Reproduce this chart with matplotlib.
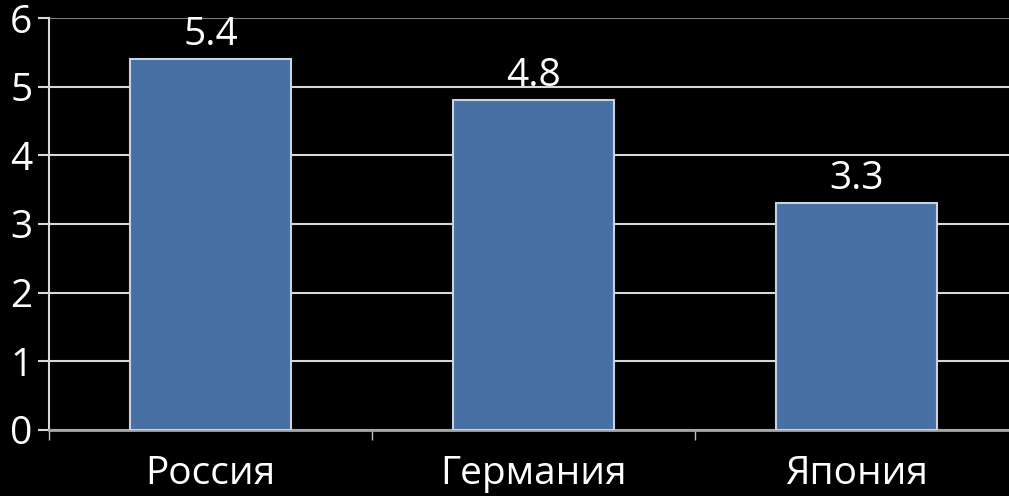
import numpy as np
import matplotlib.pyplot as plt
from matplotlib.ticker import FixedLocator

countries = ["Россия", "Германия", "Япония"]
values = [5.4, 4.8, 3.3]
y_ticks = [0, 1, 2, 3, 4, 5, 6]

plt.rcParams["font.family"] = ["Open Sans", "DejaVu Sans"]

fig = plt.figure(figsize=(10.09, 4.96), dpi=100, facecolor="black")
# ось чуть выходит за правый край, как в оригинале
ax = fig.add_axes([49 / 1009, 1 - 430 / 496, 969 / 1009, 412 / 496])
ax.set_facecolor("black")

x = np.arange(len(countries))
bars = ax.bar(x, values, width=0.5, color="#4870a4", edgecolor="#c9d3e0",
              linewidth=1.5, zorder=3)

for rect, v in zip(bars, values):
    ax.annotate(f"{v:.1f}", (rect.get_x() + rect.get_width() / 2, v),
                xytext=(0, 4), textcoords="offset points",
                ha="center", va="bottom", color="white", fontsize=28)

ax.set_xlim(-0.5, len(countries) - 0.5)
ax.set_ylim(0, 6)
ax.set_yticks(y_ticks)
ax.yaxis.grid(True, color="#d8d8d8", linewidth=1.5, zorder=0)
# верхняя линия сетки темнее
ax.get_ygridlines()[-1].set_color("#7f7f7f")

ax.xaxis.set_major_locator(FixedLocator(np.arange(len(countries) + 1) - 0.5))
ax.xaxis.set_minor_locator(FixedLocator(x))
ax.set_xticklabels([])
ax.set_xticklabels(countries, minor=True)
ax.tick_params(axis="x", which="major", length=7, width=1, color="#bfbfbf", direction="out")
ax.tick_params(axis="x", which="minor", length=0, pad=18, labelsize=28, labelcolor="white")
ax.tick_params(axis="y", length=8, width=1.5, color="#d8d8d8", pad=4,
               labelsize=28, labelcolor="white")

for side in ["top", "right"]:
    ax.spines[side].set_visible(False)
ax.spines["left"].set_color("#d8d8d8")
ax.spines["left"].set_linewidth(1.5)
ax.spines["bottom"].set_color("#a6a6a6")
ax.spines["bottom"].set_linewidth(2)

fig.savefig("out.png", dpi=100, facecolor="black")
